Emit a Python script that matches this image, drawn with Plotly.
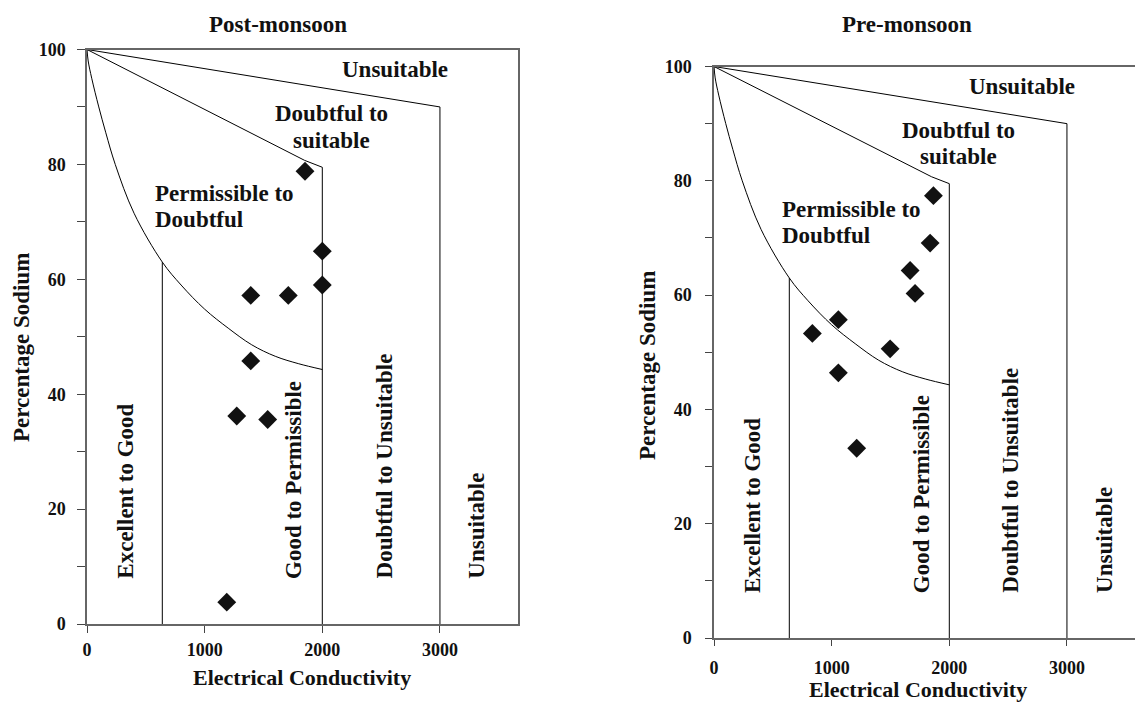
import plotly.graph_objects as go

# ---------------- data ----------------
post_ec = [1853, 2000, 2000, 1392, 1711, 1392, 1273, 1536, 1188]
post_na = [78.8, 64.9, 59.0, 57.2, 57.2, 45.8, 36.2, 35.6, 3.8]

pre_ec = [1865, 1837, 1667, 1709, 1057, 836, 1497, 1057, 1213]
pre_na = [77.4, 69.1, 64.3, 60.3, 55.7, 53.3, 50.6, 46.4, 33.2]

# Wilcox diagram boundaries
top_ec = [0, 3000, 3000]
top_na = [100, 90, 0]
mid_ec = [0, 1850, 2000, 2000]
mid_na = [100, 80.7, 79.5, 0]
curve_ec = [0, 10, 40, 100, 160, 240, 400, 640, 800, 1000, 1200, 1400, 1600, 1800, 2000]
curve_na = [100, 98, 95, 90, 85.5, 80, 71.5, 63, 59, 54.8, 51.5, 48.6, 46.6, 45.3, 44.3]
exc_ec = [640, 640]
exc_na = [0, 63]

# zone labels
zone_h_text = ["Unsuitable", "Doubtful to", "suitable", "Permissible to", "Doubtful"]
zone_h_ec = [2615, 2080, 2080, 560, 560]
zone_h_na = [96.5, 88.8, 84.2, 75.0, 70.4]
zone_h_anchor = ["center", "center", "center", "left", "left"]

zone_v_text = ["Excellent to Good", "Good to Permissible", "Doubtful to Unsuitable", "Unsuitable"]
zone_v_ec = [325, 1760, 2525, 3313]
zone_v_bottom = 7.5

x_ticks = [0, 1000, 2000, 3000]
y_ticks = [0, 10, 20, 30, 40, 50, 60, 70, 80, 90, 100]
y_labels = ["0", "", "20", "", "40", "", "60", "", "80", "", "100"]

titles = ["Post-monsoon", "Pre-monsoon"]

FONT = "Liberation Serif"
W, H = 1135, 703

fig = go.Figure()

panels = [
    dict(xa="x", ya="y", ec=post_ec, na=post_na),
    dict(xa="x2", ya="y2", ec=pre_ec, na=pre_na),
]

for p in panels:
    for xs, ys in [(top_ec, top_na), (mid_ec, mid_na), (curve_ec, curve_na), (exc_ec, exc_na)]:
        fig.add_trace(go.Scatter(x=xs, y=ys, mode="lines", xaxis=p["xa"], yaxis=p["ya"],
                                 line=dict(color="black", width=1),
                                 line_shape="spline" if xs is curve_ec else "linear",
                                 hoverinfo="skip", showlegend=False))
    fig.add_trace(go.Scatter(x=p["ec"], y=p["na"], mode="markers", xaxis=p["xa"], yaxis=p["ya"],
                             marker=dict(symbol="diamond", size=14.5, color="#111111"),
                             showlegend=False))
    for t, xv, yv, anc in zip(zone_h_text, zone_h_ec, zone_h_na, zone_h_anchor):
        fig.add_annotation(x=xv, y=yv, xref=p["xa"], yref=p["ya"], text="<b>%s</b>" % t,
                           showarrow=False, xanchor=anc, yanchor="middle",
                           font=dict(family=FONT, size=23, color="#111111"))
    for t, xv in zip(zone_v_text, zone_v_ec):
        fig.add_annotation(x=xv, y=zone_v_bottom, xref=p["xa"], yref=p["ya"], text="<b>%s</b>" % t,
                           showarrow=False, textangle=-90, xanchor="center", yanchor="bottom",
                           font=dict(family=FONT, size=23, color="#111111"))

axis_common = dict(showgrid=False, zeroline=False, showline=True, linecolor="#666666", linewidth=1.5,
                   ticks="outside", tickcolor="#444444", tickwidth=1.2,
                   tickfont=dict(family=FONT, size=18, color="#111111", weight="bold"))

# pixel geometry
L_x0, L_x1 = 87.0, 518.0
L_y100, L_y0 = 49.5, 624.0
R_x0, R_x1 = 714.0, 1135.0
R_y100, R_y0 = 66.5, 638.0
px_per_ec_L = (322.3 - 87.0) / 2000.0
px_per_ec_R = (949.3 - 714.0) / 2000.0

fig.update_layout(
    width=W, height=H, margin=dict(l=0, r=0, t=0, b=0),
    paper_bgcolor="white", plot_bgcolor="white", showlegend=False,
    xaxis=dict(axis_common, domain=[L_x0 / W, L_x1 / W], range=[0, (L_x1 - L_x0) / px_per_ec_L],
               tickvals=x_ticks, ticklen=7, mirror=True, anchor="y", automargin=False,
               ticklabelstandoff=2),
    yaxis=dict(axis_common, domain=[1 - L_y0 / H, 1 - L_y100 / H], range=[0, 100],
               tickvals=y_ticks, ticktext=y_labels, ticklen=8, mirror=True, anchor="x",
               automargin=False, ticklabelstandoff=8),
    xaxis2=dict(axis_common, domain=[R_x0 / W, 1.0], range=[0, (R_x1 - R_x0) / px_per_ec_R],
                tickvals=x_ticks, ticklen=6, mirror=True, anchor="y2", automargin=False,
                ticklabelstandoff=7),
    yaxis2=dict(axis_common, domain=[1 - R_y0 / H, 1 - R_y100 / H], range=[0, 100],
                tickvals=y_ticks, ticktext=y_labels, ticklen=7, mirror=False, anchor="x2",
                automargin=False, ticklabelstandoff=10),
)


def add_paper_text(text, xpx, ypx, size, angle=0):
    fig.add_annotation(x=xpx / W, y=1 - ypx / H, xref="paper", yref="paper", text="<b>%s</b>" % text,
                       showarrow=False, xanchor="center", yanchor="middle", textangle=angle,
                       font=dict(family=FONT, size=size, color="#111111"))


add_paper_text(titles[0], 278, 25, 23)
add_paper_text(titles[1], 907, 25, 23)
add_paper_text("Electrical Conductivity", 302, 677, 22)
add_paper_text("Electrical Conductivity", 918, 689, 22)
add_paper_text("Percentage Sodium", 21, 348, 23, -90)
add_paper_text("Percentage Sodium", 647, 365, 23, -90)

fig.write_html("out.html", config={"displayModeBar": False},
               post_script="document.body.style.margin='0px';document.body.style.overflow='hidden';")
